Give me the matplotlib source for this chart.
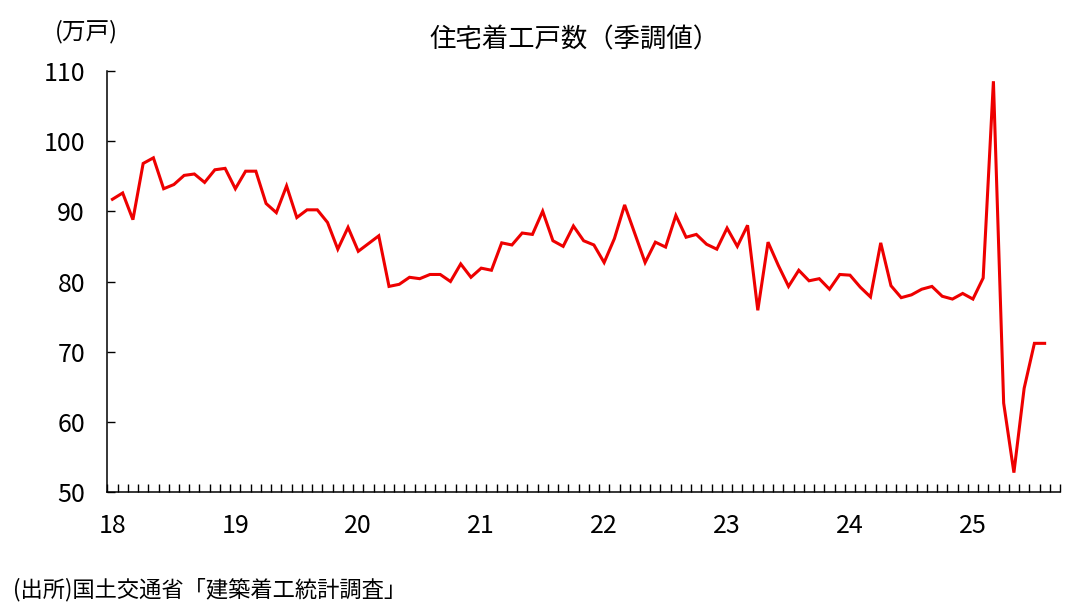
import numpy as np
import matplotlib
matplotlib.use("Agg")
import matplotlib.pyplot as plt

plt.rcParams['font.family'] = ['Noto Sans CJK JP', 'DejaVu Sans']

# Monthly housing starts (seasonally adjusted annual rate, 10k units), Jan 2018 - Aug 2025
values = [
    91.7, 92.6, 88.8, 96.8, 97.6, 93.2, 93.8, 95.1, 95.3, 94.1, 95.9, 96.1,   # 2018
    93.2, 95.7, 95.7, 91.1, 89.8, 93.6, 89.1, 90.2, 90.2, 88.4, 84.6, 87.7,   # 2019
    84.3, 85.4, 86.5, 79.3, 79.6, 80.6, 80.4, 81.0, 81.0, 80.0, 82.5, 80.6,   # 2020
    81.9, 81.6, 85.5, 85.2, 86.9, 86.7, 90.0, 85.8, 85.0, 87.9, 85.8, 85.2,   # 2021
    82.7, 86.1, 90.9, 86.8, 82.7, 85.6, 84.9, 89.4, 86.3, 86.7, 85.3, 84.6,   # 2022
    87.6, 85.0, 88.0, 75.9, 85.6, 82.3, 79.3, 81.6, 80.1, 80.4, 78.9, 81.0,   # 2023
    80.9, 79.2, 77.8, 85.5, 79.4, 77.7, 78.1, 78.9, 79.3, 77.9, 77.5, 78.3,   # 2024
    77.5, 80.5, 108.5, 62.7, 52.8, 64.8, 71.2, 71.2,                          # 2025
]
year_labels = ["18", "19", "20", "21", "22", "23", "24", "25"]
n_categories = 93  # axis runs Jan 2018 - Sep 2025
y_ticks = [50, 60, 70, 80, 90, 100, 110]

title = "住宅着工戸数（季調値）"
unit = "(万戸)"
source = "(出所)国土交通省「建築着工統計調査」"

W, H = 1074, 608
fig = plt.figure(figsize=(W / 100, H / 100), dpi=100)
left, right, top, bottom = 107.3, 1060, 70.7, 492.3
ax = fig.add_axes([left / W, 1 - bottom / H, (right - left) / W, (bottom - top) / H])

x = np.arange(len(values))
ax.plot(x, values, color='#ee0000', linewidth=2.2, solid_joinstyle='miter')

ax.set_xlim(-0.5, n_categories - 0.5)
ax.set_ylim(50, 110)

# month boundary ticks (no labels), year labels at January positions
ax.set_xticks(np.arange(-0.5, n_categories, 1.0))
ax.set_xticklabels([])
ax.set_xticks(np.arange(len(year_labels)) * 12, minor=True)
ax.set_xticklabels(year_labels, minor=True)
ax.tick_params(axis='x', which='major', direction='in', length=6, width=1, color='black')
ax.tick_params(axis='x', which='minor', length=0, pad=15, labelsize=18)

ax.set_yticks(y_ticks)
ax.set_yticklabels([str(v) for v in y_ticks])
ax.tick_params(axis='y', direction='in', length=6, width=1, pad=16, labelsize=18)

for s in ['top', 'right']:
    ax.spines[s].set_visible(False)
for s in ['left', 'bottom']:
    ax.spines[s].set_linewidth(1.1)
    ax.spines[s].set_color('black')

fig.text(574 / W, 1 - 40 / H, title, ha='center', va='center', fontsize=19)
fig.text(55 / W, 1 - 32 / H, unit, ha='left', va='center', fontsize=17)
fig.text(12.7 / W, 1 - 590 / H, source, ha='left', va='center', fontsize=16)

fig.savefig("out.png", dpi=100)
